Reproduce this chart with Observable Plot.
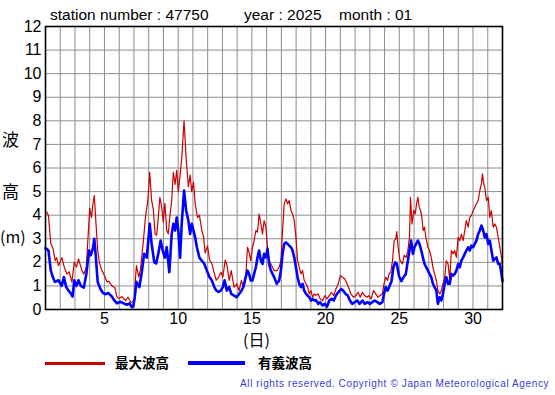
<!DOCTYPE html>
<html><head><meta charset="utf-8">
<script src="https://cdn.jsdelivr.net/npm/d3@7"></script>
<script src="https://cdn.jsdelivr.net/npm/@observablehq/plot@0.6"></script>
<style>
body{margin:0;background:#fff;font-family:"Liberation Sans",Arial,sans-serif;}
#wrap{position:relative;width:555px;height:395px;overflow:hidden;background:#fff;}
.t{position:absolute;white-space:nowrap;color:#000;line-height:1;}
.cjk{font-family:"Noto Sans CJK JP","Noto Sans CJK SC",sans-serif;}
#chart{position:absolute;left:0;top:0;}
</style></head><body>
<div id="wrap">
  <div id="chart"></div>
  <div class="t" style="left:50px;top:7px;font-size:15.5px;">station number : 47750</div>
  <div class="t" style="left:244px;top:7px;font-size:15.5px;">year : 2025</div>
  <div class="t" style="left:339px;top:7px;font-size:15.5px;">month : 01</div>
  <div class="t cjk" style="left:2px;top:130px;font-size:17px;">波</div>
  <div class="t cjk" style="left:2px;top:182px;font-size:17px;">高</div>
  <div class="t cjk" style="left:0px;top:228px;font-size:16px;">(m)</div>
  <div class="t cjk" style="left:243px;top:331px;font-size:16px;">(日)</div>
  <div style="position:absolute;left:45px;top:362px;width:60px;height:3px;background:#cc0000;"></div>
  <div class="t cjk" style="left:115px;top:356px;font-size:13.5px;font-weight:bold;">最大波高</div>
  <div style="position:absolute;left:188px;top:361px;width:57px;height:4px;background:#0000ff;"></div>
  <div class="t cjk" style="left:258px;top:356px;font-size:13.5px;font-weight:bold;">有義波高</div>
  <div class="t" style="left:240px;top:379px;font-size:10px;letter-spacing:0.62px;color:#3b3bd0;">All rights reserved. Copyright © Japan Meteorological Agency</div>
</div>
<script>
// ---- data (day of month as fractional day, wave height in metres) ----
const maxDay = [1.0,1.09,1.2,1.36,1.5,1.66,1.75,1.88,2.11,2.27,2.45,2.6,2.79,2.95,3.1,3.24,3.47,3.6,3.77,3.86,4.0,4.12,4.22,4.31,4.42,4.54,4.67,4.8,4.95,5.05,5.17,5.3,5.4,5.51,5.7,5.85,6.0,6.19,6.42,6.6,6.8,6.95,7.03,7.1,7.17,7.33,7.45,7.62,7.78,7.94,8.07,8.2,8.31,8.43,8.54,8.65,8.76,8.88,8.99,9.1,9.22,9.33,9.45,9.56,9.67,9.79,9.9,10.01,10.13,10.24,10.4,10.54,10.69,10.81,10.92,11.04,11.15,11.31,11.44,11.6,11.72,11.83,11.99,12.13,12.28,12.4,12.58,12.74,12.9,13.03,13.19,13.3,13.46,13.6,13.79,13.97,14.13,14.29,14.42,14.58,14.7,14.81,14.92,15.04,15.15,15.27,15.38,15.49,15.61,15.72,15.83,15.95,16.06,16.17,16.29,16.4,16.51,16.7,16.85,16.97,17.08,17.19,17.31,17.42,17.53,17.65,17.76,17.87,17.99,18.1,18.21,18.33,18.44,18.55,18.67,18.78,18.89,19.01,19.12,19.24,19.35,19.5,19.63,19.8,19.95,20.1,20.25,20.4,20.55,20.7,20.86,21.0,21.15,21.3,21.45,21.6,21.71,21.9,22.05,22.2,22.35,22.5,22.65,22.8,22.95,23.1,23.25,23.4,23.55,23.7,23.85,23.96,24.08,24.2,24.31,24.42,24.54,24.65,24.76,24.83,24.92,25.05,25.21,25.33,25.46,25.58,25.69,25.76,25.86,25.99,26.08,26.17,26.26,26.35,26.44,26.53,26.62,26.71,26.8,26.94,27.05,27.17,27.28,27.39,27.51,27.62,27.74,27.85,27.96,28.08,28.19,28.31,28.42,28.53,28.65,28.76,28.87,28.99,29.1,29.21,29.33,29.44,29.55,29.67,29.78,29.89,30.01,30.12,30.23,30.35,30.46,30.57,30.64,30.73,30.8,30.91,31.03,31.14,31.25,31.37,31.48,31.59,31.71,31.82,31.93,32.0];
const maxHeight = [4.15,4.12,3.98,2.8,2.6,2.07,2.2,1.86,2.2,1.8,1.5,1.6,1.16,2.0,1.8,2.15,1.65,1.5,1.8,2.8,4.3,3.9,4.5,4.83,3.7,2.5,1.95,1.7,1.5,1.37,1.17,1.2,1.1,1.0,0.93,0.52,0.47,0.55,0.38,0.52,0.3,0.35,0.25,1.3,1.86,1.37,1.72,2.78,3.91,4.62,5.82,4.62,4.27,3.21,3.15,3.9,4.76,4.34,3.7,4.5,3.36,3.2,4.03,4.62,5.82,5.3,5.9,5.0,5.7,6.4,8.0,6.4,5.2,5.7,5.0,5.4,4.5,3.9,4.0,3.36,3.1,2.4,2.7,2.1,1.95,1.66,1.24,1.37,1.58,1.37,2.1,1.9,1.23,1.65,0.95,1.09,0.8,1.23,0.95,1.37,2.64,2.43,2.07,2.64,2.92,3.35,3.28,4.05,3.63,3.2,3.77,3.49,2.64,2.07,1.93,1.79,1.65,1.65,1.79,2.07,3.35,4.48,4.69,4.48,4.62,4.2,4.05,3.77,3.06,2.07,1.79,1.51,1.65,1.23,1.09,0.95,0.66,0.8,0.52,0.66,0.6,0.66,0.45,0.38,0.59,0.45,0.59,0.73,0.59,0.87,1.09,1.44,1.37,1.3,1.09,0.87,0.66,0.52,0.59,0.73,0.52,0.73,0.59,0.52,0.59,0.45,0.8,0.66,0.52,0.59,0.66,1.09,1.37,1.23,1.51,1.58,2.07,2.92,2.99,3.3,2.64,2.07,1.93,2.3,2.21,2.5,3.06,4.76,3.63,4.2,4.05,4.48,4.76,4.34,4.2,3.91,3.35,3.49,3.06,2.64,2.5,2.21,1.79,1.51,1.23,0.8,0.66,0.8,1.09,1.37,2.07,1.93,1.23,2.5,2.36,2.5,2.21,3.06,2.92,3.2,2.92,3.35,3.77,3.49,3.91,3.98,4.2,4.34,4.48,4.62,5.04,5.33,5.75,5.33,5.18,4.62,4.76,3.91,4.2,3.49,3.63,3.49,3.06,2.64,2.21,1.9];

const sigDay = [1.0,1.09,1.2,1.36,1.5,1.64,1.88,2.1,2.25,2.4,2.56,2.7,2.84,2.95,3.1,3.24,3.4,3.6,3.77,3.95,4.07,4.22,4.31,4.42,4.54,4.72,4.9,5.05,5.25,5.5,5.65,5.85,6.07,6.3,6.5,6.7,6.85,6.95,7.05,7.17,7.37,7.53,7.69,7.87,8.07,8.2,8.38,8.51,8.65,8.81,8.95,9.1,9.22,9.4,9.56,9.67,9.79,9.9,10.01,10.13,10.24,10.4,10.54,10.69,10.81,10.92,11.04,11.15,11.27,11.44,11.6,11.76,11.94,12.13,12.28,12.45,12.58,12.74,12.9,13.03,13.15,13.3,13.46,13.6,13.79,13.97,14.13,14.29,14.42,14.58,14.7,14.81,14.92,15.04,15.15,15.27,15.38,15.49,15.61,15.72,15.83,15.95,16.06,16.17,16.29,16.51,16.69,16.85,16.97,17.08,17.19,17.31,17.42,17.53,17.65,17.76,17.87,17.99,18.1,18.21,18.33,18.44,18.55,18.67,18.78,18.89,19.01,19.12,19.24,19.35,19.5,19.63,19.8,19.95,20.1,20.25,20.4,20.55,20.7,20.86,21.05,21.2,21.36,21.5,21.65,21.8,21.98,22.15,22.3,22.5,22.65,22.84,23.0,23.17,23.33,23.51,23.67,23.85,23.96,24.08,24.2,24.31,24.47,24.6,24.72,24.83,24.99,25.14,25.28,25.44,25.58,25.69,25.8,25.92,26.03,26.14,26.26,26.37,26.49,26.6,26.71,26.83,26.94,27.05,27.17,27.28,27.39,27.51,27.62,27.74,27.85,27.96,28.08,28.19,28.31,28.42,28.53,28.65,28.76,28.87,28.99,29.1,29.21,29.33,29.44,29.55,29.67,29.78,29.89,30.01,30.12,30.23,30.35,30.46,30.57,30.69,30.8,30.91,31.03,31.14,31.25,31.37,31.48,31.59,31.71,31.82,31.93,32.0];
const sigHeight = [2.6,2.57,2.5,1.65,1.37,1.17,1.24,1.0,1.37,0.95,0.8,0.7,0.55,1.24,1.0,1.24,1.0,0.93,1.5,2.5,2.3,2.6,3.0,2.2,1.17,0.88,0.7,0.65,0.7,0.55,0.4,0.26,0.33,0.26,0.2,0.26,0.1,0.13,0.5,1.17,0.95,1.58,2.36,2.2,3.63,2.78,2.0,1.95,2.36,2.92,2.5,2.2,2.64,1.58,3.2,3.63,3.35,3.9,3.35,2.2,3.63,5.04,4.2,3.77,3.2,3.63,3.35,3.06,2.64,2.2,2.07,1.95,1.66,1.37,1.24,0.95,0.81,0.74,0.81,0.95,1.24,0.8,0.95,0.66,0.59,0.52,0.66,0.8,0.95,1.37,1.65,1.51,1.23,1.23,1.51,1.79,2.21,2.5,2.07,1.93,2.36,2.21,2.57,1.93,1.65,1.37,1.09,1.23,1.65,2.36,2.78,2.85,2.78,2.71,2.64,2.5,2.21,1.79,1.37,1.09,0.95,1.09,0.8,0.66,0.59,0.52,0.38,0.45,0.38,0.4,0.24,0.31,0.17,0.24,0.12,0.38,0.45,0.38,0.59,0.73,0.87,0.8,0.66,0.59,0.38,0.24,0.31,0.38,0.24,0.38,0.24,0.31,0.24,0.31,0.38,0.31,0.24,0.31,0.66,0.95,0.8,0.95,1.2,1.79,2.0,1.93,1.4,1.2,1.37,1.5,2.07,2.5,2.92,2.36,2.64,2.78,2.92,2.78,2.5,2.21,1.93,1.79,1.65,1.51,1.37,1.09,0.95,0.8,0.24,0.52,0.38,0.66,1.09,1.37,1.09,1.09,1.51,1.44,1.51,1.65,1.93,1.79,2.07,2.21,2.36,2.5,2.64,2.5,2.71,2.64,2.78,2.92,3.2,3.35,3.56,3.35,3.06,3.2,2.78,2.92,2.5,2.07,2.14,2.21,1.93,1.93,1.51,1.2];

const dayGrid = d3.range(1, 33);          // vertical grid: every day
const dayLabels = [5, 10, 15, 20, 25, 30]; // x tick labels
const heightTicks = d3.range(0, 13);      // y ticks 0..12 m

const maxData = maxDay.map((d, i) => ({day: d, h: maxHeight[i]}));
const sigData = sigDay.map((d, i) => ({day: d, h: sigHeight[i]}));

const chart = Plot.plot({
  width: 555, height: 345,
  marginLeft: 45, marginRight: 53, marginTop: 26, marginBottom: 36,
  style: {fontFamily: "'Liberation Sans', Arial, sans-serif", fontSize: "16px", color: "#000", background: "transparent", overflow: "visible"},
  x: {domain: [1, 32], label: null},
  y: {domain: [0, 12], label: null},
  marks: [
    Plot.ruleX(dayGrid, {stroke: "#8c8c8c", strokeWidth: 1}),
    Plot.ruleY(heightTicks, {stroke: "#8c8c8c", strokeWidth: 1}),
    Plot.line(maxData, {x: "day", y: "h", stroke: "#cc0000", strokeWidth: 1.2}),
    Plot.line(sigData, {x: "day", y: "h", stroke: "#0000ff", strokeWidth: 2.6}),
    Plot.frame({stroke: "#000", strokeWidth: 1.6}),
    Plot.axisX(dayLabels, {tickSize: 0, tickPadding: 3, fontSize: 16, label: null}),
    Plot.axisY(heightTicks, {tickSize: 0, tickPadding: 4, fontSize: 16, label: null})
  ]
});
document.getElementById("chart").appendChild(chart);
</script>
</body></html>
